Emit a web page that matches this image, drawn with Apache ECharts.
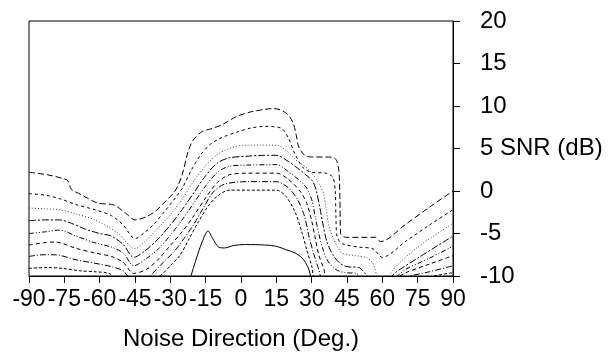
<!DOCTYPE html>
<html>
<head>
<meta charset="utf-8">
<script src="https://cdn.jsdelivr.net/npm/echarts@6/dist/echarts.min.js"></script>
<style>
  html, body { margin: 0; padding: 0; background: #fff; }
  #chart { width: 613px; height: 353px; }
</style>
</head>
<body>
<div id="chart"></div>
<script>
// contour lines, [noise direction (deg), SNR (dB)]
const level1 = [[-90,2.2],[-82,1.9],[-76,1.5],[-73.5,1.2],[-72,0.2],[-68,-0.4],[-61,-1.4],[-54,-1.65],[-49,-2.6],[-45,-3.4],[-40,-3.0],[-36,-2.3],[-32,-1.2],[-28,0.0],[-25,1.9],[-22.5,4.6],[-20.5,5.9],[-16.5,7.0],[-13,7.3],[-8,7.8],[-2,8.75],[4,9.3],[10,9.6],[14,9.7],[19,9.2],[22,8.1],[23.5,6.5],[24.5,5.2],[27,4.2],[30,4.0],[36,4.0],[40,3.8],[41.5,2.5],[42,-1],[42.3,-5.0],[44.5,-5.45],[57,-5.45],[59.3,-5.95],[70,-3.9],[80,-1.9],[90,0.0]];
const level2 = [[-90,-0.3],[-83,-0.5],[-77,-0.9],[-70,-1.6],[-62,-2.2],[-55,-2.9],[-50,-4.0],[-45,-5.6],[-41,-4.9],[-37,-3.9],[-33,-2.6],[-29,-1.2],[-25,0.3],[-21,2.5],[-17,4.3],[-13,5.5],[-8,6.3],[-2,6.9],[4,7.4],[10,7.6],[17,7.4],[20,6.3],[23,4.3],[26.5,2.7],[30,2.2],[36,2.1],[39,1.6],[40,0],[40.3,-3],[40.8,-5.4],[43,-6.2],[50,-6.6],[56,-6.8],[60,-7.8],[70,-5.9],[80,-4.0],[90,-2.2]];
const level3 = [[-90,-2.0],[-83,-2.1],[-77,-2.2],[-70,-2.7],[-62,-3.4],[-56,-4.3],[-52,-5.0],[-45,-6.8],[-41,-6.0],[-35,-4.3],[-30,-2.8],[-25,-1.0],[-20,1.2],[-15,3.0],[-10,4.3],[-5,5.0],[0,5.35],[8,5.4],[15,5.4],[19,4.8],[23.3,3.65],[28.8,2.5],[33,0.9],[35,-0.3],[36,-1.85],[37.4,-4.2],[39.6,-5.8],[43,-7.3],[48,-7.6],[53,-7.8],[56,-8.5],[58.5,-10.3],[61,-10.3],[66,-8.8],[75,-6.6],[90,-3.8]];
const level4 = [[-90,-3.5],[-83,-3.4],[-77,-3.4],[-72,-3.8],[-66,-4.5],[-60,-5.0],[-55,-5.3],[-50,-6.3],[-45.5,-7.8],[-41,-7.1],[-35,-5.6],[-30,-4.0],[-25,-2.2],[-20,-0.2],[-15,1.8],[-10,3.3],[-5,3.9],[3,4.1],[10,4.2],[15,4.2],[20,3.5],[23,2.9],[28,1.8],[30.5,1.1],[32,0],[33.5,-2],[35,-4.2],[36.5,-6.0],[39,-7.5],[42,-8.5],[45,-8.9],[50,-9.0],[53,-9.8],[55,-10.6],[61,-10.6],[66,-9.5],[75,-7.9],[90,-5.3]];
const level5 = [[-90,-5.0],[-83,-4.8],[-77,-4.6],[-70,-5.3],[-62,-6.1],[-55,-6.6],[-50,-7.3],[-45.5,-8.8],[-40,-7.9],[-35,-6.8],[-30,-5.2],[-25,-3.4],[-20,-1.4],[-15,0.6],[-10,2.2],[-5,2.9],[3,3.05],[15,3.1],[20,2.3],[25,1.2],[28,0.3],[30,-1.0],[31.5,-3.0],[33,-5.0],[35,-7.0],[37,-8.3],[40,-9.2],[44,-9.6],[49,-9.7],[52,-10.5],[63,-10.5],[70,-9.2],[80,-7.9],[90,-6.5]];
const level6 = [[-90,-6.35],[-84,-6.1],[-79,-6.0],[-70,-6.75],[-62,-7.3],[-55,-7.7],[-50,-8.4],[-45.5,-9.7],[-40,-9.2],[-35,-8.0],[-30,-6.4],[-25,-4.8],[-20,-2.9],[-15,-0.8],[-10,1.0],[-5,1.9],[3,2.1],[15,2.1],[20,1.4],[25,0.0],[28,-1.5],[30,-3.5],[31.5,-5.5],[33,-7.5],[35,-9.0],[37,-10.4],[64,-10.4],[70,-9.6],[80,-8.6],[90,-7.6]];
const level7 = [[-90,-7.7],[-84,-7.5],[-79,-7.5],[-70,-8.1],[-62,-8.5],[-55,-8.9],[-50,-9.4],[-46,-10.5],[-41,-10.5],[-38,-9.8],[-33,-8.4],[-28,-7.0],[-24,-5.5],[-20,-3.9],[-16,-2.0],[-12,-0.2],[-7,0.8],[3,1.1],[15,1.1],[20,0.4],[24,-1.0],[27,-3.0],[29,-5.5],[31,-7.5],[33,-9.2],[35,-10.5],[68,-10.5],[72,-10.0],[80,-9.5],[90,-8.8]];
const level8 = [[-90,-9.1],[-82,-9.0],[-76,-9.1],[-68,-9.4],[-62,-9.5],[-56,-9.7],[-52,-10.5],[-38,-10.5],[-34,-9.9],[-30,-8.8],[-26,-7.6],[-22,-5.6],[-18,-3.6],[-14,-1.8],[-10,-0.6],[-5,0.1],[3,0.1],[15,0.1],[19,-0.6],[23,-2.5],[26,-5.0],[28,-7.0],[30,-8.8],[32,-10.5],[76,-10.5],[82,-10.0],[90,-9.6]];
const innerLevel = [[-21.8,-10.5],[-19,-8],[-16.5,-6],[-14,-4.7],[-12,-5.6],[-9.5,-6.6],[-7,-6.7],[-3,-6.4],[2,-6.3],[10,-6.35],[15,-6.5],[19,-6.9],[23,-7.3],[26,-7.9],[28.5,-9],[30,-10.5]];

const directionTicks = { min: -90, max: 90, step: 15 };
const snrTicks = { min: -10, max: 20, step: 5 };

const contours = [
  { data: level1, dash: [6, 3], color: '#000' },
  { data: level2, dash: [3, 3], color: '#000' },
  { data: level3, dash: [1, 2], color: '#444' },
  { data: level4, dash: [7, 2, 2, 2], color: '#000' },
  { data: level5, dash: [5, 2, 1, 2, 1, 2], color: '#000' },
  { data: level6, dash: [4, 3], color: '#000' },
  { data: level7, dash: [6, 2, 1, 2], color: '#000' },
  { data: level8, dash: [3, 2], color: '#000' },
  { data: innerLevel, dash: 'solid', color: '#000' },
];

const font = 'Liberation Sans, Arial, sans-serif';
const chart = echarts.init(document.getElementById('chart'));

chart.setOption({
  animation: false,
  grid: {
    left: 29,
    right: 160,
    top: 21,
    bottom: 77,
    containLabel: false,
    outerBoundsMode: 'none',
    show: true,
    borderColor: '#000',
    borderWidth: 1,
  },
  xAxis: {
    type: 'value',
    min: directionTicks.min,
    max: directionTicks.max,
    interval: directionTicks.step,
    name: 'Noise Direction (Deg.)',
    nameLocation: 'middle',
    nameGap: 51,
    nameMoveOverlap: false,
    nameTextStyle: { fontFamily: font, fontSize: 24, color: '#000' },
    axisLine: { onZero: false, lineStyle: { color: '#000', width: 1 } },
    axisTick: { length: 7, lineStyle: { color: '#000' } },
    axisLabel: { margin: 12, fontFamily: font, fontSize: 23, color: '#000' },
    splitLine: { show: false },
  },
  yAxis: {
    type: 'value',
    position: 'right',
    min: snrTicks.min,
    max: snrTicks.max,
    interval: snrTicks.step,
    name: 'SNR (dB)',
    nameLocation: 'middle',
    nameRotate: 0,
    nameGap: 47,
    nameMoveOverlap: false,
    nameTextStyle: { fontFamily: font, fontSize: 24, color: '#000' },
    axisLine: { show: true, onZero: false, lineStyle: { color: '#000', width: 1 } },
    axisTick: { show: true, length: 7, lineStyle: { color: '#000' } },
    axisLabel: { margin: 27, fontFamily: font, fontSize: 24, color: '#000' },
    splitLine: { show: false },
  },
  series: contours.map((c) => ({
    type: 'line',
    data: c.data,
    smooth: 0.3,
    symbol: 'none',
    clip: true,
    lineStyle: { color: c.color, width: 1, type: c.dash },
  })),
});
</script>
</body>
</html>
